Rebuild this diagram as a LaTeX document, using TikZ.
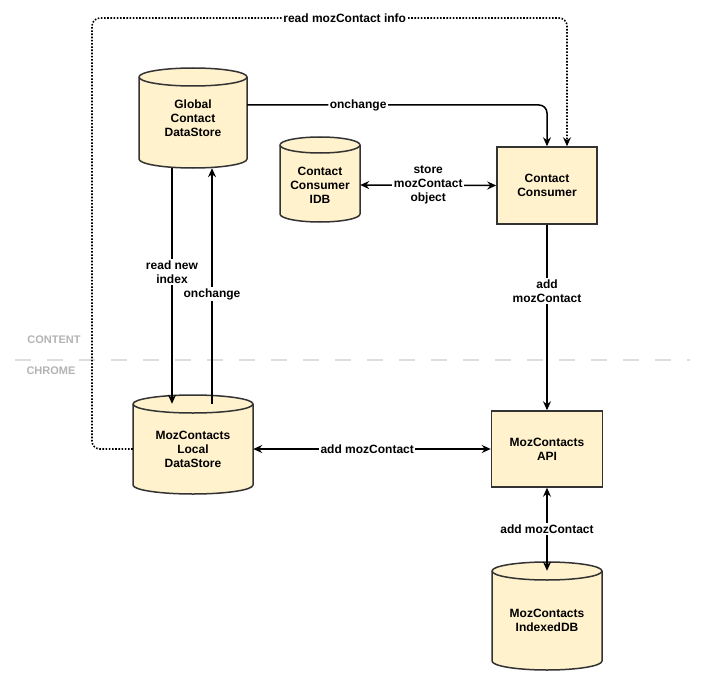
\documentclass[tikz,border=0pt]{standalone}
\usepackage{fontspec}
\setmainfont{Liberation Sans}
\usetikzlibrary{arrows.meta,calc}
\definecolor{fillc}{HTML}{FFF2CC}
\definecolor{linec}{HTML}{333333}
\definecolor{sepc}{HTML}{DDDDDD}
\definecolor{graytext}{HTML}{B3B3B3}
\newcommand\cylshape[5]{% L T R B ry
  \pgfmathsetmacro\cxr{(#3-#1)/2}
  \filldraw[shapeline] (#1,-#2-#5) -- (#1,-#4+#5)
    arc[start angle=180,end angle=360,x radius=\cxr,y radius=#5]
    -- (#3,-#2-#5)
    arc[start angle=0,end angle=180,x radius=\cxr,y radius=#5] -- cycle;
  \draw[shapeline] (#1,-#2-#5) arc[start angle=180,end angle=360,x radius=\cxr,y radius=#5];
}
\tikzset{
  shapeline/.style={draw=linec, fill=fillc, line width=1.5pt},
  txt/.style={inner sep=0pt, align=center, font=\bfseries\fontsize{12}{14}\selectfont},
  rectbox/.style={txt, draw=linec, fill=fillc, line width=1.5pt},
  lab/.style={fill=white, inner sep=1.5pt, align=center, font=\bfseries\fontsize{12}{14}\selectfont},
  tip/.tip={Stealth[length=9pt,width=8pt,inset=3pt]},
  conn/.style={line width=1.5pt, draw=black, -tip},
  biconn/.style={line width=1.5pt, draw=black, tip-tip},
  dotconn/.style={line width=1.6pt, draw=black, dash pattern=on 1.6pt off 1.6pt, -tip},
  sidelab/.style={text=graytext, inner sep=0pt, font=\bfseries\fontsize{11}{13}\selectfont}
}
\begin{document}
\begin{tikzpicture}[x=1pt,y=1pt]
\useasboundingbox (0,0) rectangle (712,-690);

% separator
\draw[sepc, line width=2pt, dash pattern=on 16pt off 16pt] (15,-360) -- (690,-360);
\node[sidelab] (content) at (54,-340) {CONTENT};
\node[sidelab] (chrome) at (51,-371) {CHROME};

% shapes
\cylshape{139}{68}{247}{168}{9}
\node[txt, minimum width=108, minimum height=100] (gds) at (193,-118) {Global\\Contact\\DataStore};

\cylshape{280}{137}{360}{222}{8}
\node[txt, minimum width=80, minimum height=96] (ccidb) at (320,-185) {Contact\\Consumer\\IDB};

\node[rectbox, minimum width=100, minimum height=77] (cc) at (547,-185.5) {Contact\\Consumer};

\cylshape{133}{395}{253}{494}{9}
\node[txt, minimum width=120, minimum height=90] (lds) at (193,-449) {MozContacts\\Local\\DataStore};

\node[rectbox, minimum width=111, minimum height=76] (api) at (547,-449) {MozContacts\\API};

\cylshape{492}{562}{602}{670}{9}
\node[txt, minimum width=110, minimum height=98] (idb) at (547,-620) {MozContacts\\IndexedDB};

% connectors
\draw[conn, rounded corners=8] ($(gds.east)+(0,13)$) -| (cc.north)
  node[lab, pos=0.185] {onchange};
\draw[dotconn, rounded corners=8] (lds.west) -| (92,-18) -| ($(cc.north)+(20,0)$)
  node[lab, pos=0.266] {read mozContact info};
\draw[biconn] (ccidb.east) -- (cc.west)
  node[lab, midway] {store\\mozContact\\object};
\draw[conn] ($(gds.south)+(-21,0)$) -- ($(lds.north)+(-21,0)$)
  node[lab, pos=0.44] {read new\\index};
\draw[conn] ($(lds.north)+(19,0)$) -- ($(gds.south)+(19,0)$)
  node[lab, pos=0.466] {onchange};
\draw[conn] (cc.south) -- (api.north)
  node[lab, pos=0.356] {add\\mozContact};
\draw[biconn] (lds.east) -- (api.west)
  node[lab, pos=0.48] {add mozContact};
\draw[biconn] (api.south) -- (idb.north)
  node[lab, midway] {add mozContact};
\end{tikzpicture}
\end{document}
